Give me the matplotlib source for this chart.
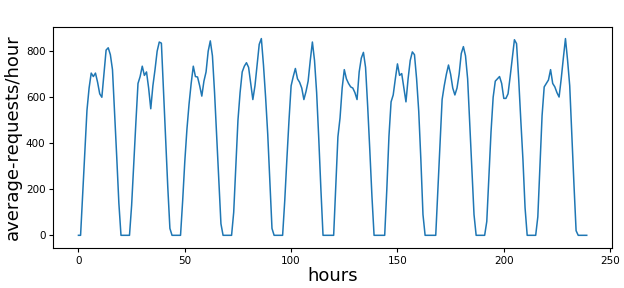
import matplotlib
matplotlib.use("Agg")
import matplotlib.pyplot as plt
from matplotlib import font_manager
import numpy as np

day0 = [0, 0, 180, 360, 543, 640, 705, 690, 705, 665, 615, 600, 700, 805, 815, 785, 720, 530, 340, 140, 0, 0, 0, 0]
day1 = [0, 130, 310, 490, 660, 690, 735, 695, 710, 640, 550, 650, 720, 800, 840, 835, 625, 420, 210, 30, 0, 0, 0, 0]
day2 = [0, 150, 320, 460, 570, 660, 735, 690, 688, 650, 605, 670, 710, 800, 845, 780, 620, 430, 240, 50, 0, 0, 0, 0]
day3 = [0, 100, 300, 500, 620, 710, 735, 750, 730, 660, 590, 650, 740, 830, 855, 740, 600, 440, 230, 30, 0, 0, 0, 0]
day4 = [0, 150, 330, 500, 650, 690, 725, 680, 665, 640, 590, 625, 670, 760, 840, 760, 620, 420, 200, 0, 0, 0, 0, 0]
day5 = [0, 210, 428, 510, 640, 720, 680, 660, 645, 640, 620, 590, 710, 770, 795, 730, 560, 370, 170, 0, 0, 0, 0, 0]
day6 = [0, 200, 430, 580, 610, 680, 745, 695, 703, 640, 580, 680, 760, 797, 785, 680, 540, 330, 90, 0, 0, 0, 0, 0]
day7 = [0, 200, 400, 590, 650, 700, 740, 700, 640, 610, 640, 700, 790, 820, 780, 680, 480, 290, 90, 0, 0, 0, 0, 0]
day8 = [60, 260, 450, 600, 670, 680, 690, 660, 595, 595, 615, 690, 770, 850, 833, 680, 500, 330, 120, 0, 0, 0, 0, 0]
day9 = [80, 300, 520, 645, 660, 675, 720, 660, 645, 620, 601, 680, 770, 855, 760, 650, 430, 220, 20, 0, 0, 0, 0, 0]

requests = np.array(day0 + day1 + day2 + day3 + day4 + day5 + day6 + day7 + day8 + day9, dtype=float)
hours = np.arange(len(requests))

# use a condensed face if one is installed
names = {f.name for f in font_manager.fontManager.ttflist}
family = "DejaVu Sans Condensed" if "DejaVu Sans Condensed" in names else "DejaVu Sans"
plt.rcParams["font.family"] = [family, "DejaVu Sans"]

fig = plt.figure(figsize=(6.24, 2.88), dpi=100)
ax = fig.add_axes([0.085, 0.139, 0.896, 0.767])
ax.plot(hours, requests, color="#1f77b4", lw=1.1)
ax.set_ylim(-55, 905)
ax.set_yticks([0, 200, 400, 600, 800])
ax.set_xticks([0, 50, 100, 150, 200, 250])
ax.tick_params(labelsize=7.5, length=3, pad=2.5)
ax.set_xlabel("hours", fontsize=13, labelpad=1)
ax.set_ylabel("average-requests/hour", fontsize=13, labelpad=3)
fig.savefig("out.png", dpi=100)
